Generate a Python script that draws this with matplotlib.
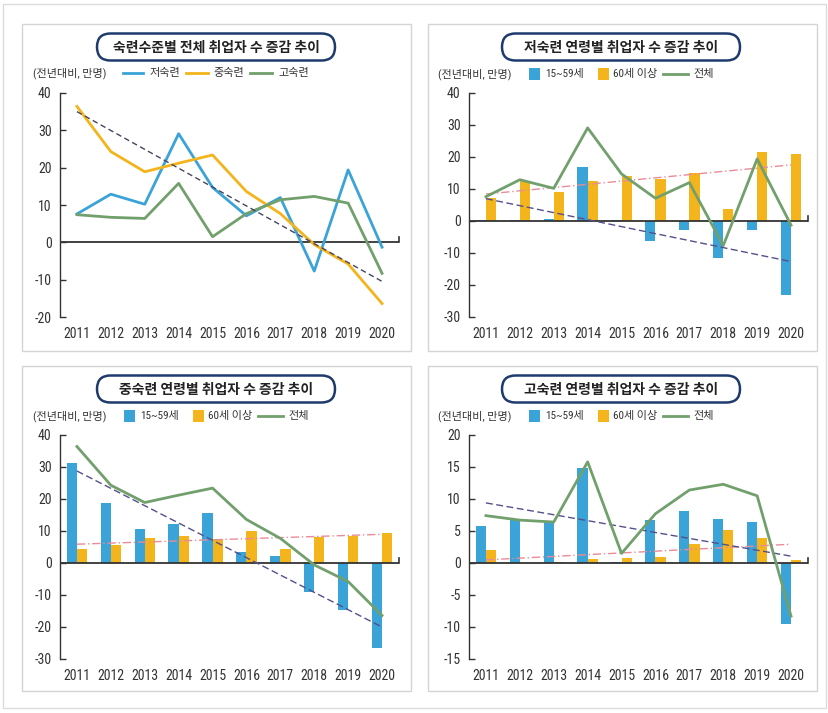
import numpy as np
import matplotlib
matplotlib.use("Agg")
import matplotlib.pyplot as plt
from matplotlib.patches import FancyBboxPatch, Rectangle
from matplotlib.lines import Line2D
from matplotlib import font_manager

# narrow face for the numbers if one is around, otherwise the CJK face
names = {f.name for f in font_manager.fontManager.ttflist}
narrow = [n for n in ['Roboto Condensed', 'Liberation Sans Narrow', 'Open Sans Condensed',
                      'DejaVu Sans Condensed'] if n in names]
NUM_FONT = narrow[:1] + ['Noto Sans CJK KR', 'DejaVu Sans']

plt.rcParams['font.family'] = NUM_FONT
plt.rcParams['axes.unicode_minus'] = False

years = ['2011', '2012', '2013', '2014', '2015', '2016', '2017', '2018', '2019', '2020']

# 전년대비 취업자 증감 (만명)
low_skill = [7.6, 12.9, 10.2, 29.1, 14.7, 7.1, 12.0, -7.7, 19.4, -1.3]
mid_skill = [36.4, 24.3, 18.9, 21.2, 23.4, 13.6, 7.7, -0.6, -5.8, -16.4]
high_skill = [7.4, 6.7, 6.4, 15.8, 1.5, 7.7, 11.4, 12.3, 10.5, -8.3]

low_young = [0.3, 0.3, 0.7, 16.8, 0.2, -6.2, -2.9, -11.7, -2.9, -23.1]
low_old = [7.3, 12.5, 9.0, 12.5, 14.2, 13.0, 14.9, 3.8, 21.6, 21.0]
mid_young = [31.4, 18.6, 10.5, 12.3, 15.5, 3.4, 2.2, -9.1, -14.6, -26.5]
mid_old = [4.5, 5.5, 7.8, 8.5, 7.6, 10.0, 4.3, 8.1, 8.4, 9.5]
high_young = [5.8, 6.7, 6.4, 14.9, 0.1, 6.7, 8.1, 6.8, 6.4, -9.6]
high_old = [2.0, 0.0, 0.2, 0.7, 0.8, 0.9, 3.0, 5.2, 3.9, 0.4]

BLUE = '#3aa3d8'
YELLOW = '#f3b41c'
GREEN = '#72a06c'
NAVY = '#1f3b6e'
PINK = '#e98c98'
PURPLE = '#55508c'
AXIS = '#333333'

W, H = 829, 713
fig = plt.figure(figsize=(W / 100, H / 100), dpi=100)
fig.patch.set_facecolor('white')
px = fig.dpi_scale_trans  # inches; 1 px = 0.01 in
TICK_SIZE = 10 if narrow else 8.8


def P(x, y):
    # pixel position from top-left -> inches
    return x / 100, (H - y) / 100


def rect_px(x0, y0, x1, y1, color='#d4d4d4', lw=1.0):
    fig.add_artist(Rectangle(P(x0, y1), (x1 - x0) / 100, (y1 - y0) / 100,
                             transform=px, fill=False, edgecolor=color, lw=lw))


def title_box(cx, cy, text):
    w, h = 238, 27
    x0, y0 = P(cx - w / 2, cy + h / 2)
    fig.add_artist(FancyBboxPatch((x0, y0), w / 100, h / 100, transform=px,
                                  boxstyle='round,pad=0,rounding_size=0.135',
                                  facecolor='white', edgecolor=NAVY, lw=1.8))
    fig.text(*P(cx, cy + 1), text, transform=px, ha='center', va='center',
             fontsize=10, fontweight='bold', color='#222222',
             family=['Noto Sans CJK KR', 'DejaVu Sans'])


def legend_text(x, y, text):
    fig.text(*P(x, y), text, transform=px, ha='left', va='center',
             fontsize=8, color='#333333')


def legend_line(x0, x1, y, color):
    xa, ya = P(x0, y)
    xb, _ = P(x1, y)
    fig.add_artist(Line2D([xa, xb], [ya, ya], transform=px, color=color, lw=2))


def legend_square(x0, y, color):
    fig.add_artist(Rectangle(P(x0, y + 6), 0.11, 0.12, transform=px,
                             facecolor=color, edgecolor='none'))


def make_axes(left, top, bottom, ymin, ymax, step):
    ax = fig.add_axes([left / W, 1 - bottom / H, 339 / W, (bottom - top) / H])
    ax.set_facecolor('none')
    ax.set_xlim(-0.5, 9.5)
    ax.set_ylim(ymin, ymax)
    ax.set_yticks(np.arange(ymin, ymax + 1, step))
    ax.set_xticks(np.arange(len(years)))
    ax.set_xticklabels(years)
    for s in ['top', 'right', 'bottom']:
        ax.spines[s].set_visible(False)
    ax.spines['left'].set_color(AXIS)
    ax.spines['left'].set_linewidth(1.0)
    ax.tick_params(axis='y', direction='in', length=4, width=1, color=AXIS,
                   labelsize=TICK_SIZE, pad=6, labelcolor='#333333')
    ax.tick_params(axis='x', length=0, pad=7, labelsize=TICK_SIZE, labelcolor='#333333')
    ax.axhline(0, color=AXIS, lw=1.3, zorder=2)
    ax.plot([9.5, 9.5], [0, (ymax - ymin) * 0.022], color=AXIS, lw=1.2, clip_on=False)
    return ax


def trend(ax, values, color, dashes, lw=1.0):
    x = np.arange(len(values))
    slope, icpt = np.polyfit(x, values, 1)
    ax.plot(x[[0, -1]], icpt + slope * x[[0, -1]], color=color, lw=lw,
            dashes=dashes, zorder=4)


# frames
rect_px(3, 4, 826, 708, color='#dcdcdc')
rect_px(22, 24, 411, 351)
rect_px(428, 24, 817, 351)
rect_px(22, 366, 411, 691)
rect_px(428, 366, 817, 691)

x = np.arange(len(years))

# 숙련수준별 전체
ax1 = make_axes(60, 93, 317, -20, 40, 10)
ax1.plot(x, low_skill, color=BLUE, lw=2, zorder=3)
ax1.plot(x, mid_skill, color=YELLOW, lw=2, zorder=3)
ax1.plot(x, high_skill, color=GREEN, lw=2, zorder=3)
trend(ax1, mid_skill, '#45455e', (4, 2.5))
title_box(216, 47, '숙련수준별 전체 취업자 수 증감 추이')
legend_text(33, 73, '(전년대비, 만명)')
legend_line(123, 143, 73, BLUE)
legend_text(149, 73, '저숙련')
legend_line(186, 208, 73, YELLOW)
legend_text(213, 73, '중숙련')
legend_line(250, 272, 73, GREEN)
legend_text(278, 73, '고숙련')

panels = [
    (469, 0, -30, 40, 10, low_young, low_old, low_skill, '저숙련 연령별 취업자 수 증감 추이', 621, 438),
    (60, 342, -30, 40, 10, mid_young, mid_old, mid_skill, '중숙련 연령별 취업자 수 증감 추이', 216, 33),
    (469, 342, -15, 20, 5, high_young, high_old, high_skill, '고숙련 연령별 취업자 수 증감 추이', 621, 438),
]

for left, dy, ymin, ymax, step, young, old, total, title, cx, lx in panels:
    ax = make_axes(left, 93 + dy, 317 + dy, ymin, ymax, step)
    ax.bar(x - 0.15, young, width=0.3, color=BLUE, zorder=1)
    ax.bar(x + 0.15, old, width=0.3, color=YELLOW, zorder=1)
    trend(ax, old, PINK, (6, 2, 1, 2))
    trend(ax, young, PURPLE, (5, 2.5))
    ax.plot(x, total, color=GREEN, lw=2, zorder=5)
    title_box(cx, 47 + dy, title)
    ly = 74 + dy
    legend_text(lx, ly, '(전년대비, 만명)')
    legend_square(lx + 91, ly, BLUE)
    legend_text(lx + 107, ly, '15~59세')
    legend_square(lx + 160, ly, YELLOW)
    legend_text(lx + 175, ly, '60세 이상')
    legend_line(lx + 225, lx + 250, ly, GREEN)
    legend_text(lx + 255, ly, '전체')

fig.savefig('out.png', dpi=100)
